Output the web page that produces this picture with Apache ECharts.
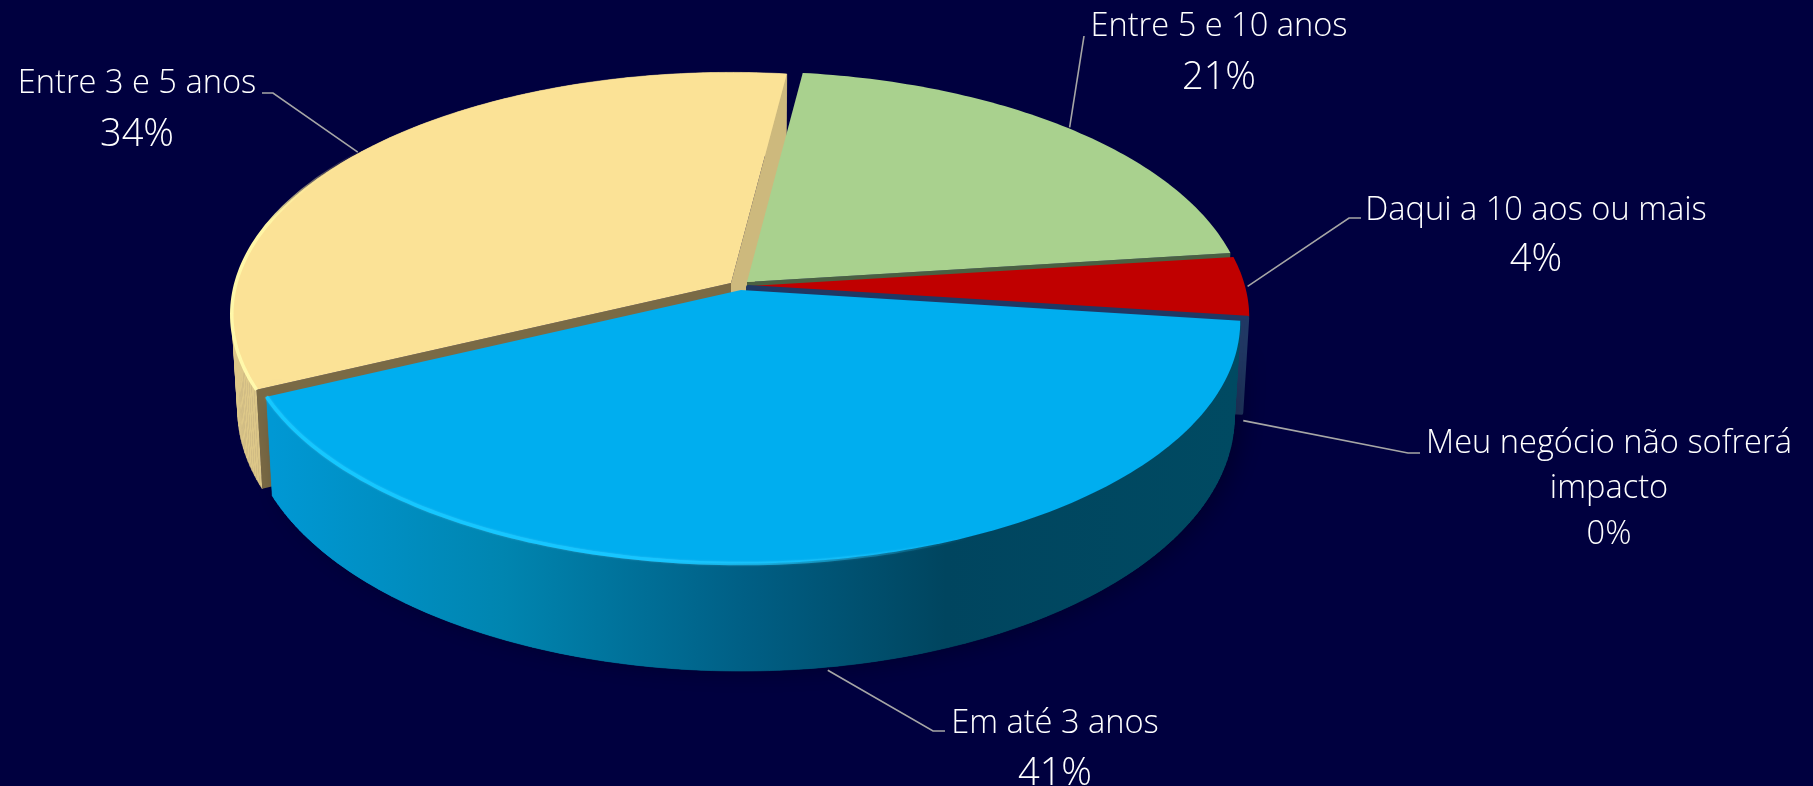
<!DOCTYPE html>
<html>
<head>
<meta charset="utf-8">
<title>Impacto no negócio</title>
<script src="https://cdn.jsdelivr.net/npm/echarts@6/dist/echarts.min.js"></script>
<style>
  html, body { margin: 0; padding: 0; background: #00003f; }
  #chart { width: 1813px; height: 786px; }
</style>
</head>
<body>
<div id="chart"></div>
<script>
// values, clockwise from the gap at the back of the pie
const categories = ["Entre 5 e 10 anos", "Daqui a 10 aos ou mais", "Meu negócio não sofrerá\nimpacto", "Em até 3 anos", "Entre 3 e 5 anos"];
const shares = [21, 4, 0, 41, 34];
const percentLabels = ["21%", "4%", "0%", "41%", "34%"];

// projection of the tilted disc
const FIRST_ANGLE = 7.3; // degrees clockwise from the back
const CENTER_X = 740;
const CENTER_Y = 285;
const RADIUS_X = 495;
const RADIUS_Y = 238;
const PERSPECTIVE = 0.13;
const DEPTH = 93.5;
const FLOOR_SHRINK = 0.988;
const FONT = '"Open Sans", "Noto Sans", sans-serif';

const blueWallStops = [
  { offset: 0, color: "#0098d4" }, { offset: 0.24, color: "#0085b0" },
  { offset: 0.49, color: "#005f85" }, { offset: 0.7, color: "#00455f" },
  { offset: 1, color: "#004a62" }
];

// one entry per category: paint order, offset from centre, colours, label layout
const looks = [
  { z: 2, dx: 7, dy: -3, top: "#a9d18e", endCut: "#4a6042",
    elbow: [1084, 36], nameX: 1219, nameY: 35, pctY: 88, nameSize: 32.6, pctSize: 38 },
  { z: 3, dx: 10, dy: 1, top: "#c00000",
    elbow: [1349, 218], tail: [1361, 218], nameX: 1536, nameY: 219, pctY: 270, nameSize: 32.6, pctSize: 38 },
  { z: 4, dx: 8, dy: 2, endCut: "#203864", gapLine: 4,
    elbow: [1408, 453], tail: [1420, 453], nameX: 1609, nameY: 452, pctY: 542, nameSize: 32.6, pctSize: 32.6, lineGap: 45 },
  { z: 5, dx: 1, dy: 5, top: "#00aeef", shadow: true, sideStops: blueWallStops,
    rim: { from: 0.4, to: 1, glow: "rgba(120,220,255,0.4)", line: { type: "linear", x: 1, y: 0, x2: 0, y2: 0, colorStops: [
      { offset: 0, color: "rgba(20,200,255,0)" }, { offset: 0.45, color: "#17c6ff" }, { offset: 1, color: "#14c8ff" }] } },
    elbow: [933, 731], tail: [945, 731], nameX: 1055, nameY: 732, pctY: 784, nameSize: 32.6, pctSize: 38 },
  { z: 1, dx: -9, dy: -2, top: "#fbe296", side: "#dec889", startCut: "#7a6a45", endCut: "#cdb97d",
    rim: { from: 0, to: 0.5, line: { type: "linear", x: 0, y: 1, x2: 0, y2: 0, colorStops: [
      { offset: 0, color: "#fff9ac" }, { offset: 0.7, color: "#fff6a6" }, { offset: 1, color: "rgba(251,226,150,0)" }] } },
    elbow: [273, 93], tail: [262, 93], nameX: 137, nameY: 92, pctY: 145, nameSize: 32.6, pctSize: 38 }
];

const total = shares.reduce((a, b) => a + b, 0);

function project(look, theta, r, z) {
  const rad = (theta * Math.PI) / 180;
  const u = Math.sin(rad) * r;
  const v = -Math.cos(rad) * r;
  const s = 1 / (1 - PERSPECTIVE * v);
  const shrink = 1 - (1 - FLOOR_SHRINK) * z;
  return [
    CENTER_X + look.dx + RADIUS_X * u * s * shrink,
    CENTER_Y + look.dy + RADIUS_Y * v * s + DEPTH * z * s
  ];
}

function arc(look, from, to, z) {
  const pts = [];
  const steps = Math.max(1, Math.ceil(Math.abs(to - from)));
  for (let i = 0; i <= steps; i++) {
    pts.push(project(look, from + ((to - from) * i) / steps, 1, z));
  }
  return pts;
}

function cutFace(look, theta) {
  return [project(look, theta, 0, 0), project(look, theta, 1, 0), project(look, theta, 1, 1), project(look, theta, 0, 1)];
}

function textEl(text, x, y, size, z) {
  return {
    type: "text",
    z2: z,
    style: { text: text, x: x, y: y, fill: "#ffffff", font: "300 " + size + "px " + FONT, textAlign: "center", textVerticalAlign: "bottom" }
  };
}

// wall is drawn as thin strips so the silhouette between rim and floor has no notch
function wallStrips(look, start, end, fill) {
  const upper = arc(look, start, end, 0);
  const lower = arc(look, start, end, 1);
  const strips = [];
  for (let n = 0; n < upper.length - 1; n++) {
    strips.push({
      type: "polygon", z2: look.z,
      shape: { points: [upper[n], upper[n + 1], lower[n + 1], lower[n]] },
      style: { fill: fill, stroke: fill, lineWidth: 0.6 }
    });
  }
  return strips;
}

function renderSlice(params, api) {
  const i = params.dataIndex;
  const look = looks[i];
  const value = api.value(0);
  let start = FIRST_ANGLE;
  for (let k = 0; k < i; k++) start += (shares[k] / total) * 360;
  const end = start + (value / total) * 360;
  const mid = (start + end) / 2;
  let children = [];

  let wallFill = look.side;
  if (look.sideStops) {
    wallFill = {
      type: "linear", global: true,
      x: project(look, end, 1, 1)[0], y: 0, x2: project(look, start, 1, 1)[0], y2: 0,
      colorStops: look.sideStops
    };
  }
  if (wallFill) {
    if (look.shadow) {
      children.push({
        type: "polygon", z2: look.z,
        shape: { points: arc(look, start, end, 0).concat(arc(look, end, start, 1)) },
        style: { fill: wallFill, shadowColor: "rgba(0,0,0,0.3)", shadowBlur: 24, shadowOffsetX: 8 }
      });
    }
    children = children.concat(wallStrips(look, start, end, wallFill));
  }
  if (look.startCut) {
    children.push({ type: "polygon", z2: look.z, shape: { points: cutFace(look, start) }, style: { fill: look.startCut } });
  }
  if (look.endCut) {
    const face = { fill: look.endCut };
    if (look.gapLine) { face.stroke = look.endCut; face.lineWidth = look.gapLine; face.lineJoin = "round"; }
    children.push({ type: "polygon", z2: look.z, shape: { points: cutFace(look, end) }, style: face });
  }
  if (look.top && value > 0) {
    const surface = [project(look, start, 0, 0)].concat(arc(look, start, end, 0));
    children.push({ type: "polygon", z2: look.z, shape: { points: surface }, style: { fill: look.top } });
  }
  if (look.rim) {
    const span = end - start;
    const rimStyle = { stroke: look.rim.line, lineWidth: 3.5, fill: "none" };
    if (look.rim.glow) { rimStyle.shadowBlur = 2; rimStyle.shadowColor = look.rim.glow; }
    children.push({
      type: "polyline", z2: look.z,
      shape: { points: arc(look, start + span * look.rim.from, start + span * look.rim.to, 0) },
      style: rimStyle
    });
  }

  // leader line leaves the wall at the middle of the slice
  const front = mid > 120 && mid < 240;
  const anchorDepth = value === 0 ? 1.08 : front ? 1.03 : 0;
  const leader = [project(look, mid, front ? 1 : 1.005, anchorDepth), look.elbow];
  if (look.tail) leader.push(look.tail);
  children.push({
    type: "polyline", z2: 10,
    shape: { points: leader },
    style: { stroke: "#a6a6a6", lineWidth: 1.6, fill: "none" }
  });

  const nameLines = categories[i].split("\n");
  nameLines.forEach((line, n) => {
    children.push(textEl(line, look.nameX, look.nameY + 8 + n * (look.lineGap || 0), look.nameSize, 11));
  });
  children.push(textEl(percentLabels[i], look.nameX, look.pctY + 9, look.pctSize, 11));

  return { type: "group", children: children };
}

const myChart = echarts.init(document.getElementById("chart"));
myChart.setOption({
  backgroundColor: "#00003f",
  animation: false,
  series: [{
    type: "custom",
    coordinateSystem: "none",
    silent: true,
    renderItem: renderSlice,
    data: shares.map((v) => [v])
  }]
});
</script>
</body>
</html>
